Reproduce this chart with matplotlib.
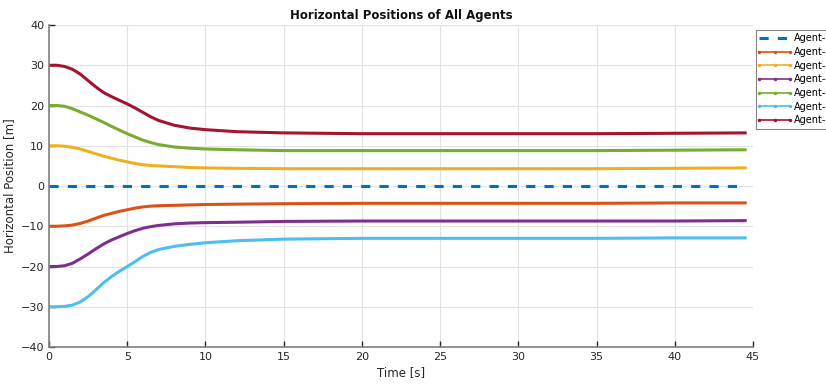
import matplotlib
matplotlib.use("Agg")
import matplotlib.pyplot as plt

# time samples [s] and horizontal positions [m]
time_s = [0, 0.5, 1, 1.5, 2, 2.5, 3, 3.5, 4, 4.5, 5, 5.5, 6, 6.5, 7, 8, 9, 10,
          12, 15, 20, 25, 30, 35, 40, 44.5]

agent1 = [0.0] * len(time_s)
agent2 = [-10, -10, -9.9, -9.7, -9.3, -8.7, -8.0, -7.3, -6.8, -6.3, -5.9, -5.5, -5.2,
          -5.0, -4.9, -4.8, -4.7, -4.6, -4.5, -4.4, -4.3, -4.3, -4.3, -4.3, -4.2, -4.2]
agent3 = [10, 10, 9.9, 9.6, 9.2, 8.6, 8.0, 7.4, 6.9, 6.4, 6.0, 5.6, 5.3, 5.1, 5.0,
          4.8, 4.6, 4.5, 4.4, 4.3, 4.3, 4.3, 4.3, 4.3, 4.4, 4.5]
agent4 = [-20, -20, -19.8, -19.2, -18.1, -16.9, -15.6, -14.4, -13.4, -12.6, -11.8,
          -11.1, -10.5, -10.1, -9.8, -9.4, -9.2, -9.1, -9.0, -8.8, -8.7, -8.7, -8.7,
          -8.7, -8.7, -8.6]
agent5 = [20, 20, 19.8, 19.2, 18.4, 17.6, 16.7, 15.8, 14.8, 13.9, 13.0, 12.2, 11.4,
          10.8, 10.3, 9.7, 9.4, 9.2, 9.0, 8.8, 8.8, 8.8, 8.8, 8.8, 8.9, 9.0]
agent6 = [-30, -30, -29.9, -29.6, -28.8, -27.5, -25.8, -24.0, -22.5, -21.2, -20.0,
          -18.8, -17.5, -16.5, -15.8, -15.0, -14.5, -14.1, -13.6, -13.2, -13.0, -13.0,
          -13.0, -13.0, -12.9, -12.9]
agent7 = [30, 30, 29.7, 29.0, 27.8, 26.2, 24.6, 23.2, 22.2, 21.3, 20.4, 19.4, 18.3,
          17.2, 16.3, 15.1, 14.4, 14.0, 13.5, 13.2, 13.0, 13.0, 13.0, 13.0, 13.1, 13.2]

labels = ["Agent-1", "Agent-2", "Agent-3", "Agent-4", "Agent-5", "Agent-6", "Agent-7"]
colors = ["#0072BD", "#D95319", "#EDB120", "#7E2F8E", "#77AC30", "#4DBEEE", "#A2142F"]
series = [agent1, agent2, agent3, agent4, agent5, agent6, agent7]

fig = plt.figure(figsize=(8.26, 3.85), dpi=100)
ax = fig.add_axes([0.0593, 0.0987, 0.8523, 0.8363])

for i, (ys, lab, col) in enumerate(zip(series, labels, colors)):
    if i == 0:
        ax.plot(time_s, ys, color=col, lw=2.2, ls=(0, (3, 3)), label=lab)
    else:
        ax.plot(time_s, ys, color=col, lw=2.2, label=lab, marker=".",
                markersize=3, markevery=[])

ax.set_xlim(0, 45)
ax.set_ylim(-40, 40)
ax.set_xticks(range(0, 46, 5))
ax.set_yticks(range(-40, 41, 10))
ax.grid(True, color="#e2e2e2", lw=0.8)
ax.set_axisbelow(True)
for side in ["top", "right"]:
    ax.spines[side].set_visible(False)
for side in ["left", "bottom"]:
    ax.spines[side].set_color("#808080")
    ax.spines[side].set_linewidth(1.2)
ax.tick_params(direction="in", length=4, colors="#262626", labelsize=8,
               width=1, color="#262626")

ax.set_title("Horizontal Positions of All Agents", fontsize=8.5, fontweight="bold",
             color="#111111", pad=4)
ax.set_xlabel("Time [s]", fontsize=8.5, color="#262626", labelpad=3)
ax.set_ylabel("Horizontal Position [m]", fontsize=8.5, color="#262626", labelpad=3)

# legend sits past the right edge, its labels get cut off like in the original
leg = ax.legend(loc="upper left", bbox_to_anchor=(1.004, 0.985), fontsize=7,
                frameon=True, fancybox=False, edgecolor="#666666",
                handlelength=3.2, borderpad=0.35, labelspacing=0.38,
                handletextpad=0.4, borderaxespad=0)
leg.get_frame().set_linewidth(0.8)
for h in leg.legend_handles[1:]:
    h.set_linewidth(1.2)
    h.set_marker(".")
    h.set_markersize(3)
    h.set_markevery(None)

fig.savefig("out.png", dpi=100)
